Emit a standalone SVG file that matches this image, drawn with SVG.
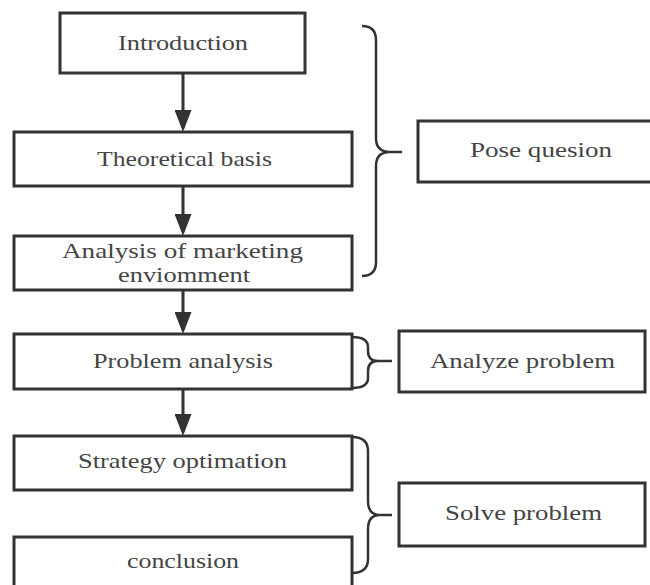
<svg xmlns="http://www.w3.org/2000/svg" width="650" height="585" viewBox="0 0 650 585">
  <style>
    .box { fill: #ffffff; stroke: #333333; stroke-width: 3; }
    .lbl { font-family: "Liberation Serif", "Times New Roman", serif; font-size: 21px; fill: #444444; }
    .flow { stroke: #333333; stroke-width: 3; fill: none; }
    .brace { stroke: #333333; stroke-width: 2.5; fill: none; }
  </style>
  <defs>
    <marker id="head" viewBox="0 0 22 17" refX="18" refY="8.5" markerWidth="22" markerHeight="17" markerUnits="userSpaceOnUse" orient="auto">
      <path d="M0,0 L22,8.5 L0,17 Z" fill="#333333"/>
    </marker>
  </defs>
  <rect width="650" height="585" fill="#ffffff"/>

  <!-- flow arrows and grouping braces -->
  <g id="connectors">
    <line class="flow" x1="183" y1="73" x2="183" y2="128" marker-end="url(#head)"/>
    <line class="flow" x1="183" y1="186" x2="183" y2="232" marker-end="url(#head)"/>
    <line class="flow" x1="183" y1="290" x2="183" y2="330" marker-end="url(#head)"/>
    <line class="flow" x1="183" y1="389" x2="183" y2="432" marker-end="url(#head)"/>
    <path class="brace" d="M362,26 Q376,26 376,40 V138 Q376,152 390,152 H402 M390,152 Q376,152 376,166 V262 Q376,276 362,276"/>
    <path class="brace" d="M352,337 Q368,337 368,347 V351 Q368,361 378,361 H392 M378,361 Q368,361 368,371 V378 Q368,388 352,388"/>
    <path class="brace" d="M352,437 Q368,437 368,451 V501 Q368,515 380,515 H392 M380,515 Q368,515 368,529 V559 Q368,573 352,573"/>
  </g>

  <g id="introduction">
    <rect class="box" x="60" y="13" width="245" height="60"/>
    <text class="lbl" x="118" y="50" textLength="130" lengthAdjust="spacingAndGlyphs">Introduction</text>
  </g>
  <g id="theoretical-basis">
    <rect class="box" x="14" y="132" width="338" height="54"/>
    <text class="lbl" x="97" y="166" textLength="175" lengthAdjust="spacingAndGlyphs">Theoretical basis</text>
  </g>
  <g id="marketing-analysis">
    <rect class="box" x="14" y="236" width="338" height="54"/>
    <text class="lbl" x="62" y="258" textLength="241" lengthAdjust="spacingAndGlyphs">Analysis of  marketing</text>
    <text class="lbl" x="118" y="282" textLength="132" lengthAdjust="spacingAndGlyphs">enviomment</text>
  </g>
  <g id="problem-analysis">
    <rect class="box" x="14" y="334" width="338" height="55"/>
    <text class="lbl" x="93" y="368" textLength="180" lengthAdjust="spacingAndGlyphs">Problem analysis</text>
  </g>
  <g id="strategy-optimation">
    <rect class="box" x="14" y="436" width="338" height="54"/>
    <text class="lbl" x="78" y="468" textLength="209" lengthAdjust="spacingAndGlyphs">Strategy optimation</text>
  </g>
  <g id="conclusion">
    <rect class="box" x="14" y="537" width="338" height="60"/>
    <text class="lbl" x="127" y="568" textLength="112" lengthAdjust="spacingAndGlyphs">conclusion</text>
  </g>

  <g id="pose-question">
    <rect class="box" x="418" y="121" width="240" height="61"/>
    <text class="lbl" x="470" y="157" textLength="142" lengthAdjust="spacingAndGlyphs">Pose quesion</text>
  </g>
  <g id="analyze-problem">
    <rect class="box" x="399" y="331" width="246" height="61"/>
    <text class="lbl" x="430" y="368" textLength="185" lengthAdjust="spacingAndGlyphs">Analyze problem</text>
  </g>
  <g id="solve-problem">
    <rect class="box" x="399" y="483" width="246" height="63"/>
    <text class="lbl" x="445" y="520" textLength="157" lengthAdjust="spacingAndGlyphs">Solve problem</text>
  </g>
</svg>
